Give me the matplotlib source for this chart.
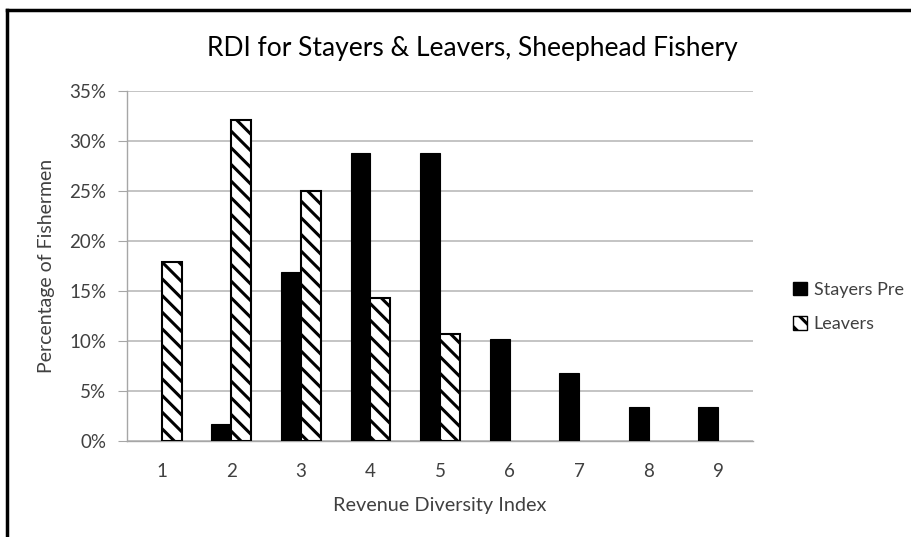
import matplotlib
matplotlib.use("Agg")
import matplotlib.pyplot as plt
from matplotlib.lines import Line2D
from matplotlib.patches import Patch
import numpy as np

plt.rcParams['font.family'] = ['Lato', 'DejaVu Sans']
plt.rcParams['hatch.linewidth'] = 2.2

categories = [1, 2, 3, 4, 5, 6, 7, 8, 9]
stayers_pre = [0.0, 1.7, 16.9, 28.8, 28.8, 10.2, 6.8, 3.4, 3.4]
leavers = [17.9, 32.1, 25.0, 14.3, 10.7, 0.0, 0.0, 0.0, 0.0]
yticks = [0, 5, 10, 15, 20, 25, 30, 35]
ytick_labels = ["0%", "5%", "10%", "15%", "20%", "25%", "30%", "35%"]

W, H = 911, 537
fig = plt.figure(figsize=(W/100, H/100), dpi=100)
ax = fig.add_axes([127/W, 1 - 441/H, (753-127)/W, 350/H])

x = np.arange(len(categories))
w = 0.2857
ax.bar(x - w/2, stayers_pre, width=w, color='black', edgecolor='black',
       linewidth=[0.8 if v > 0 else 0 for v in stayers_pre], zorder=3)
ax.bar(x + w/2, leavers, width=w, color='white', edgecolor='black', hatch='\\\\',
       linewidth=[1.5 if v > 0 else 0 for v in leavers], zorder=3)

ax.set_xlim(-0.5, len(categories) - 0.5)
ax.set_ylim(0, 35)
ax.set_yticks(yticks)
ax.set_yticklabels(ytick_labels)
ax.set_xticks(x)
ax.set_xticklabels([str(c) for c in categories])
ax.yaxis.grid(True, color='#BFBFBF', linewidth=1.3, zorder=0)
ax.set_axisbelow(True)
for s in ['top', 'right']:
    ax.spines[s].set_visible(False)
ax.spines['left'].set_color('#A6A6A6')
ax.spines['bottom'].set_color('#A6A6A6')
ax.spines['left'].set_linewidth(1.0)
ax.spines['bottom'].set_linewidth(1.0)
ax.tick_params(axis='y', length=6.5, color='#A6A6A6', labelsize=13.5, labelcolor='#404040', pad=8.5)
ax.tick_params(axis='x', length=0, labelsize=13.5, labelcolor='#404040', pad=16)

ax.set_xlabel("Revenue Diversity Index", fontsize=14.3, color='#404040')
ax.xaxis.set_label_coords(0.5, -(511 - 441) / 350, transform=ax.transAxes)
ax.xaxis.label.set_va('baseline')
ax.set_ylabel("Percentage of Fishermen", fontsize=14, color='#404040')
ax.yaxis.set_label_coords((47 - 127) / 626, 0.5, transform=ax.transAxes)
ax.yaxis.label.set_va('center')
fig.text(472/W, 1 - 56/H, "RDI for Stayers & Leavers, Sheephead Fishery", fontsize=19,
         color='black', ha='center', va='baseline')

handles = [Patch(facecolor='black', edgecolor='black'),
           Patch(facecolor='white', edgecolor='black', hatch='\\\\')]
leg = fig.legend(handles, ["Stayers Pre", "Leavers"], loc='center left',
                 bbox_to_anchor=(777/W, 1 - 307/H), frameon=False, fontsize=13,
                 handlelength=0.78, handleheight=0.78, labelspacing=1.0, handletextpad=0.35)
for t in leg.get_texts():
    t.set_color('#404040')

# chart frame (left and top edges visible)
fig.add_artist(Line2D([6.5/W, 6.5/W], [0, 1 - 10/H], color='black', linewidth=2.5, transform=fig.transFigure))
fig.add_artist(Line2D([6.5/W, 1], [1 - 10/H, 1 - 10/H], color='black', linewidth=2.5, transform=fig.transFigure))

fig.savefig("out.png", dpi=100)
